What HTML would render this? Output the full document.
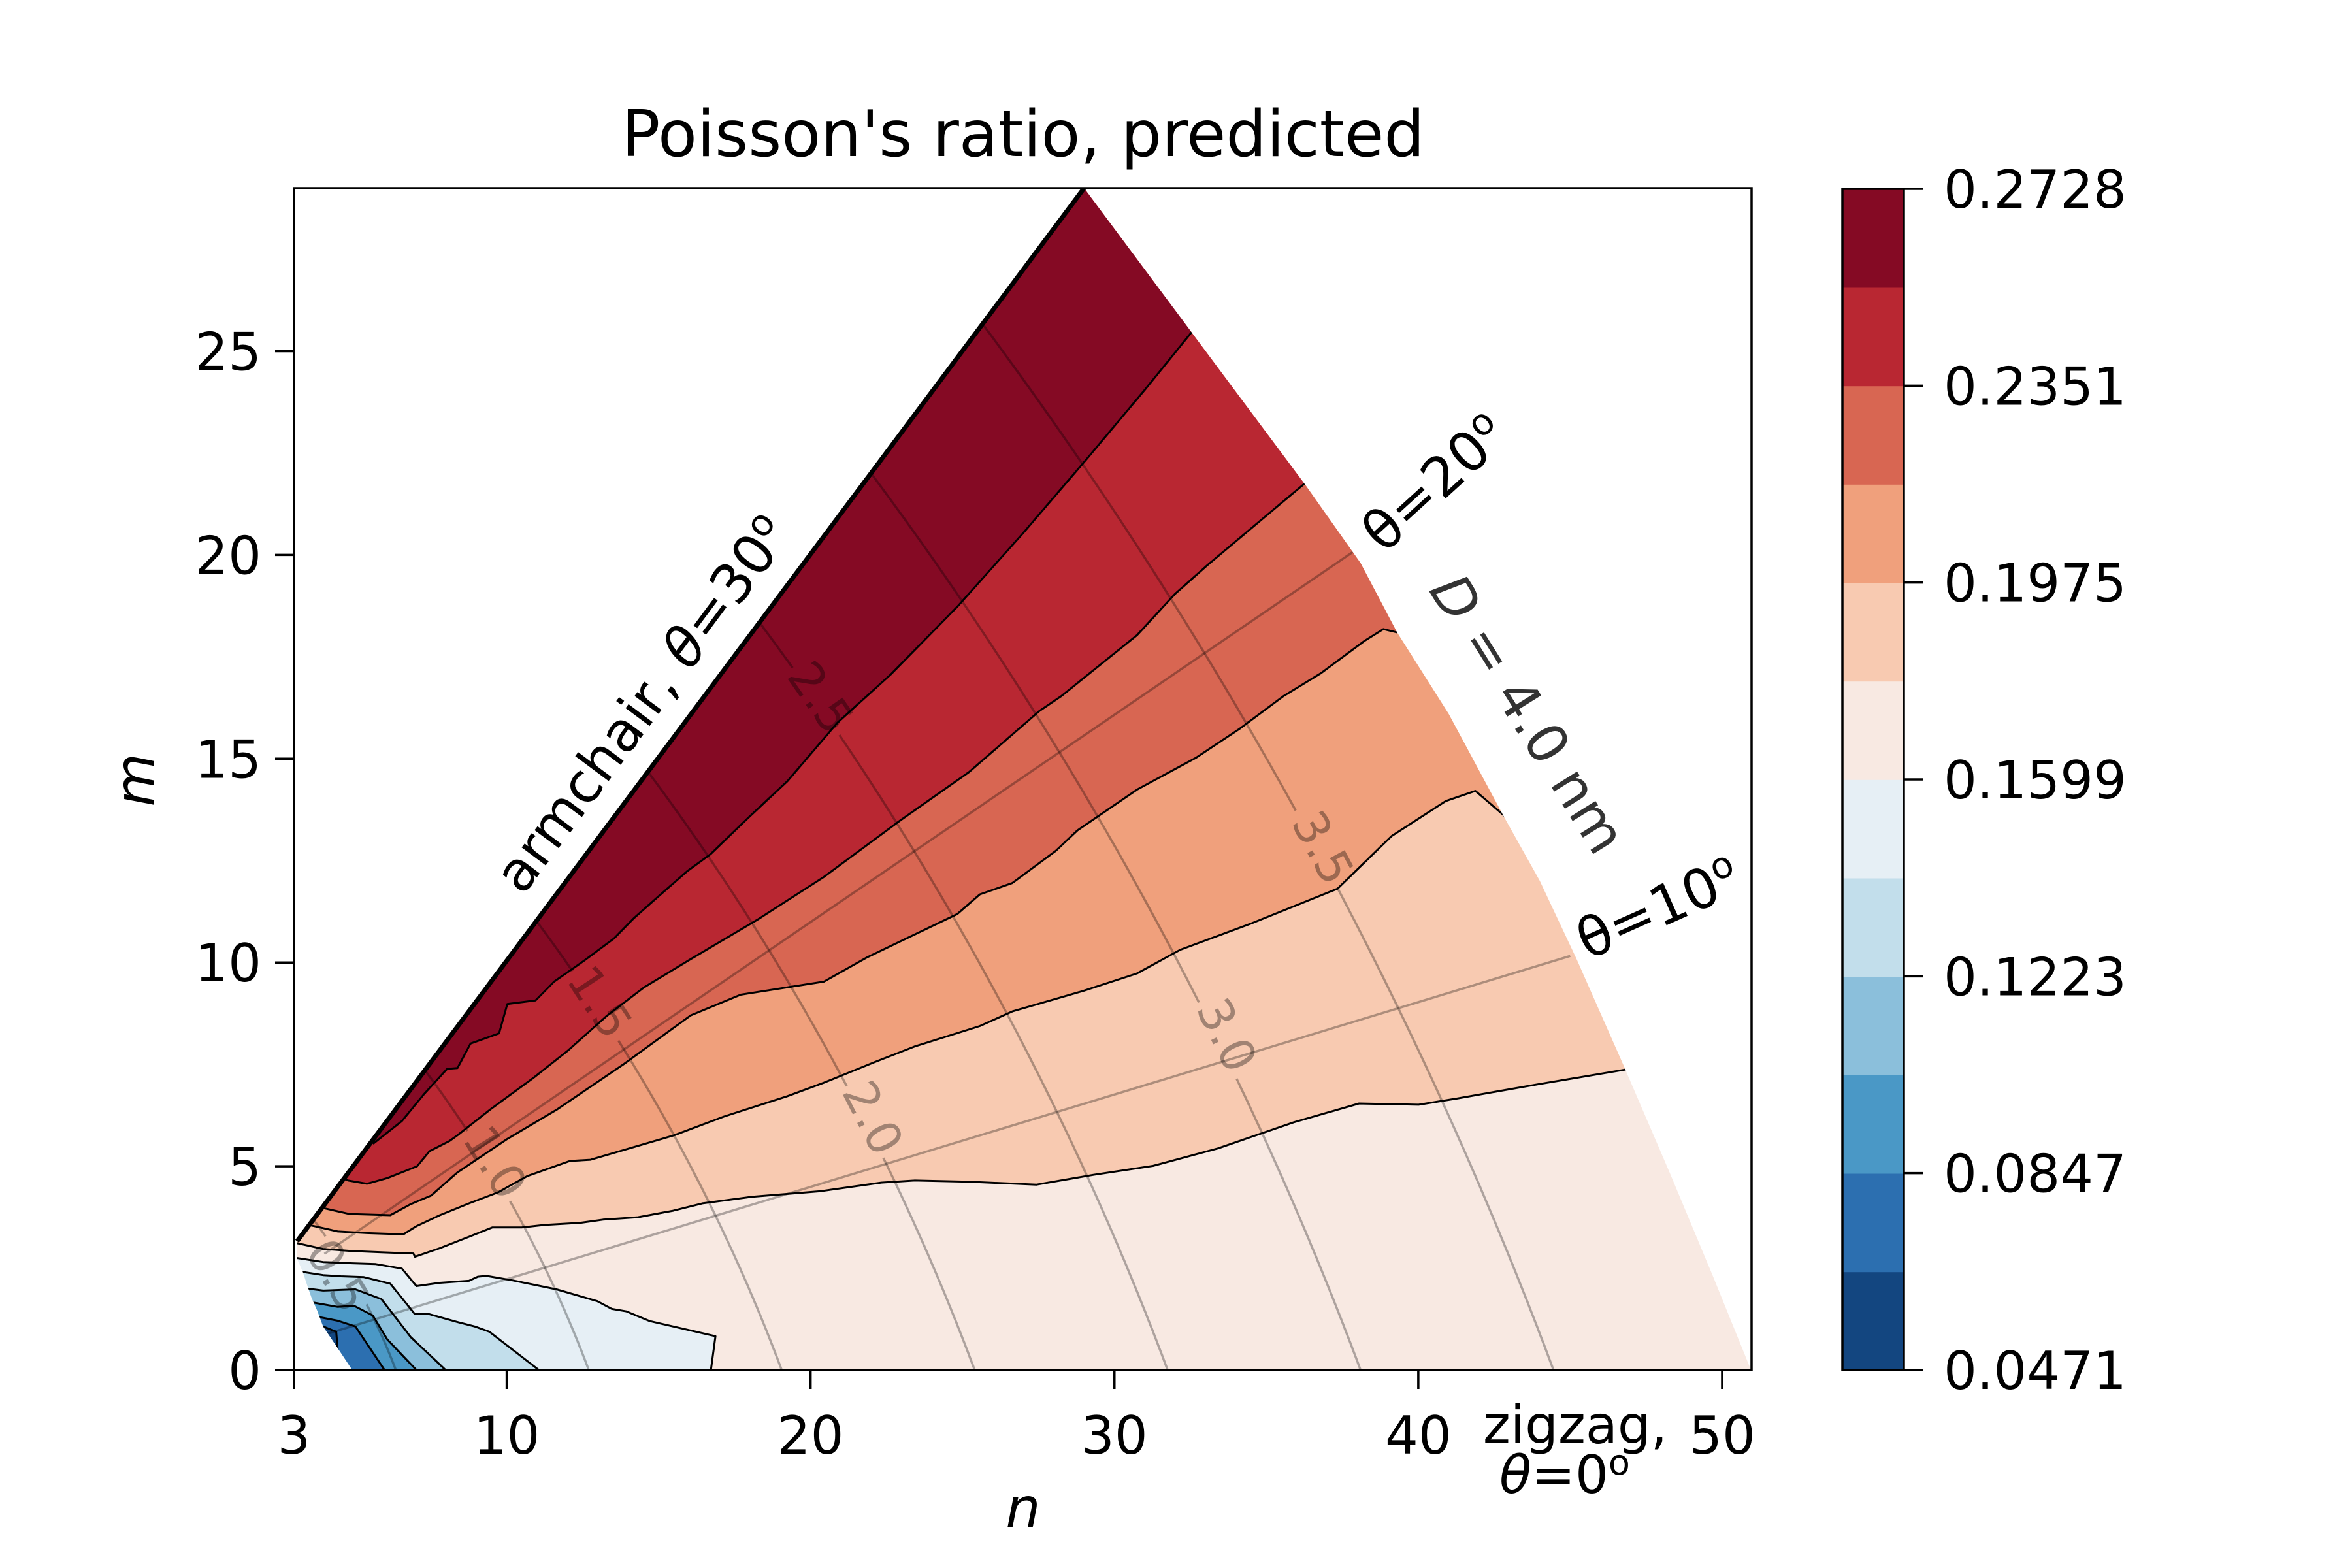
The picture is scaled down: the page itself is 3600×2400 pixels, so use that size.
<!DOCTYPE html>
<html><head><meta charset="utf-8"><style>
html,body{margin:0;padding:0;background:#fff}
svg{display:block}
text{font-family:"DejaVu Sans","Liberation Sans",sans-serif}
</style></head><body>
<svg id="chart" xmlns="http://www.w3.org/2000/svg" width="3600" height="2400" viewBox="0 0 3600 2400">
<rect x="0" y="0" width="3600" height="2400" fill="#fff"/>
<defs>
<clipPath id="axclip"><rect x="450" y="288" width="2231" height="1809"/></clipPath>
<clipPath id="domclip"><path id="domclippath" d=""/></clipPath>
</defs>
<g id="plot" clip-path="url(#axclip)">
<g id="fills" clip-path="url(#domclip)"></g>
<g id="grey" clip-path="url(#domclip)"></g>
<g id="lines" clip-path="url(#domclip)"></g>
<g id="armchair"></g>
<g id="dlabels"></g>
</g>
<rect x="450" y="288" width="2231" height="1809" fill="none" stroke="#000" stroke-width="3.5"/>
<g id="xticks"></g>
<g id="yticks"></g>
<g id="cbar"></g>
<text x="1566" y="239" font-size="98" text-anchor="middle">Poisson's ratio, predicted</text>
<text x="1566" y="2337" font-size="84" font-style="italic" text-anchor="middle">n</text>
<text x="0" y="0" font-size="84" font-style="italic" text-anchor="middle" transform="translate(236,1194) rotate(-90)">m</text>
<text x="0" y="0" font-size="84" transform="translate(800,1372) rotate(-53.3)">armchair, <tspan font-style="italic">θ</tspan>=30<tspan font-size="56" dy="-30">o</tspan></text>
<text x="0" y="0" font-size="84" transform="translate(2118,849) rotate(-42.3)">θ=20<tspan font-size="56" dy="-30">o</tspan></text>
<text x="0" y="0" font-size="84" fill="#333" transform="translate(2186,903) rotate(58)"><tspan font-style="italic">D</tspan> = 4.0 nm</text>
<text x="0" y="0" font-size="84" transform="translate(2430,1470) rotate(-24)">θ=10<tspan font-size="56" dy="-30">o</tspan></text>
<text x="2411" y="2209" font-size="80" text-anchor="middle">zigzag,</text>
<text x="2395" y="2285" font-size="80" text-anchor="middle"><tspan font-style="italic">θ</tspan>=0<tspan font-size="54" dy="-28">o</tspan></text>
</svg>
<script>
// ---- data ----
const levels = [0.0471,0.0659,0.0847,0.1035,0.1223,0.1411,0.1599,0.1787,0.1975,0.2163,0.2351,0.2539,0.2728];
const bandColors = ["#134680","#2c6fb0","#4a98c6","#8bbfdb","#c2deeb","#e6eff5","#f8e9e2","#f8cab1","#f0a07c","#d86652","#b92732","#850a24"];
const cbarTickLabels = ["0.0471","0.0847","0.1223","0.1599","0.1975","0.2351","0.2728"];
const xTicks = [3,10,20,30,40,50];
const yTicks = [0,5,10,15,20,25];
const innerEdge = [[4.92,0],[4.58,0.38],[4.25,0.75],[3.96,1.07],[3.77,1.45],[3.58,1.77],[3.43,2.09],[3.29,2.41],[3.1,2.73],[3.1,3.16]];
const armchairEnd = [29,29];
const outerEdge = [[29,29],[32.5,25.5],[36.3,21.7],[38.1,19.8],[39.3,18.1],[41.0,16.1],[42.8,13.6],[44.0,12.0],[45.2,10.1],[46.8,7.4],[48.3,4.8],[49.7,2.3],[50.95,0]];
const c1 = [[5.6,5.55],[6.55,6.11],[7.29,6.78],[8.04,7.39],[8.38,7.41],[8.81,8.01],[9.75,8.26],[10.02,8.98],[10.95,9.07],[11.56,9.53],[12.54,10.04],[13.53,10.59],[14.19,11.09],[14.96,11.6],[15.94,12.24],[16.71,12.66],[17.92,13.53],[19.24,14.45],[20.88,15.88],[22.64,17.07],[24.83,18.73],[27.0,20.54],[29.14,22.4],[31.01,24.06],[32.49,25.42],[32.8,25.7]];
const c2 = [[4.7,4.68],[4.78,4.65],[5.4,4.57],[6.07,4.71],[7.05,5.0],[7.46,5.37],[8.12,5.62],[8.38,5.76],[9.47,6.4],[10.9,7.18],[12.0,7.83],[13.31,8.7],[14.52,9.39],[16.05,10.08],[18.25,11.05],[20.44,12.1],[22.96,13.49],[25.21,14.67],[27.53,16.17],[28.24,16.53],[30.74,18.03],[31.99,19.04],[33.06,19.75],[36.27,21.76],[36.6,22.0]];
const c3 = [[4.0,3.97],[4.82,3.83],[6.17,3.8],[6.84,4.07],[7.51,4.28],[8.38,4.85],[10.02,5.67],[11.67,6.4],[13.86,7.51],[16.05,8.7],[17.7,9.21],[20.44,9.53],[21.87,10.13],[24.83,11.19],[25.57,11.67],[26.64,11.95],[28.07,12.74],[28.78,13.24],[30.74,14.24],[32.7,15.03],[34.13,15.74],[35.55,16.53],[36.8,17.1],[38.23,17.89],[38.85,18.18],[39.3,18.1],[39.6,18.3]];
const c4 = [[3.55,3.55],[3.67,3.53],[4.44,3.4],[5.4,3.36],[6.6,3.33],[7.03,3.53],[7.8,3.8],[8.76,4.09],[9.72,4.36],[10.68,4.76],[12.08,5.13],[12.76,5.16],[15.51,5.76],[17.15,6.22],[19.24,6.72],[20.44,7.05],[22.09,7.55],[23.43,7.94],[25.57,8.44],[26.64,8.8],[28.96,9.3],[30.74,9.73],[32.16,10.31],[34.48,10.95],[37.34,11.81],[39.12,13.1],[40.9,13.96],[41.88,14.21],[42.77,13.64],[43.1,13.4]];
const c5 = [[3.0,3.13],[3.96,2.97],[4.92,2.92],[5.88,2.89],[6.93,2.86],[6.98,2.78],[7.8,2.99],[8.76,3.27],[9.53,3.5],[10.49,3.5],[11.25,3.56],[12.4,3.61],[13.17,3.69],[14.32,3.75],[15.48,3.91],[16.44,4.09],[18.05,4.25],[20.34,4.39],[22.33,4.6],[23.43,4.65],[25.21,4.62],[27.44,4.55],[29.31,4.79],[31.27,5.01],[33.41,5.44],[35.91,6.08],[38.05,6.54],[40.01,6.51],[41.26,6.66],[43.93,7.01],[46.79,7.37],[47.5,7.45]];
const c6 = [[3.0,2.76],[3.96,2.65],[4.92,2.62],[5.69,2.6],[6.55,2.49],[7.03,2.06],[7.8,2.14],[8.76,2.19],[9.05,2.29],[9.33,2.31],[10.2,2.2],[11.64,1.98],[12.98,1.69],[13.46,1.5],[13.94,1.44],[14.71,1.2],[15.48,1.07],[16.87,0.83],[16.72,0],[16.72,-0.5]];
const c7 = [[3.0,2.44],[3.96,2.33],[4.54,2.3],[5.3,2.28],[6.17,2.12],[6.98,1.37],[7.41,1.38],[8.37,1.18],[8.95,1.07],[9.43,0.94],[11.06,0],[11.5,-0.5]];
const c8 = [[3.0,2.04],[3.96,1.95],[5.02,1.98],[5.88,1.74],[6.84,0.81],[7.99,0],[8.4,-0.5]];
const c9 = [[3.0,1.74],[4.44,1.55],[4.97,1.58],[5.59,1.34],[6.07,0.75],[7.03,0],[7.4,-0.5]];
const c10 = [[3.0,1.42],[4.44,1.21],[5.02,1.07],[5.98,0],[6.3,-0.5]];
const c11 = [[3.0,1.07],[3.96,1.07],[4.39,0.94],[4.44,0.48],[4.6,0.3],[4.6,-0.5]];
const upperContours = [c5,c4,c3,c2,c1];
const upperBandIdx = [7,8,9,10,11];
const lowerContours = [c6,c7,c8,c9,c10,c11];
const lowerBandIdx = [5,4,3,2,1,0];
const diameters = [0.5,1.0,1.5,2.0,2.5,3.0,3.5];
const diamLabels = ["0.5","1.0","1.5","2.0","2.5","3.0","3.5"];
const diamLabelPos = [[4.44,2.32],[9.62,5.1],[13.06,9.03],[22.05,6.19],[20.33,16.5],[33.7,8.22],[36.86,12.82]];
const hexPerNm = 12.7;
const theta10Line = [[3.96,0.86],[45.0,10.16]];
const theta20Line = [[4.0,2.85],[37.9,20.1]];

// ---- scales ----
const X = n => 450 + (n-3)*46.51;
const Y = m => 2097 - m*62.38;
const NS = "http://www.w3.org/2000/svg";
function mk(tag, attrs, parent){const e=document.createElementNS(NS,tag);for(const k in attrs)e.setAttribute(k,attrs[k]);parent.appendChild(e);return e;}
const ptsStr = pts => pts.map(p=>X(p[0]).toFixed(1)+","+Y(p[1]).toFixed(1)).join(" ");
const pathD = pts => "M"+pts.map(p=>X(p[0]).toFixed(1)+" "+Y(p[1]).toFixed(1)).join(" L");

const domain = innerEdge.concat([armchairEnd]).concat(outerEdge.slice(1));
document.getElementById('domclippath').setAttribute('d', pathD(domain)+" Z");

const fills = document.getElementById('fills');
const base = mk('polygon',{points:ptsStr(domain),fill:bandColors[6]},fills);



upperContours.forEach((c,i)=>{
  const first=c[0], last=c[c.length-1];
  const poly = c.concat([[60,last[1]],[60,40],[0,40],[0,first[1]]]);
  const p = mk('polygon',{points:ptsStr(poly),fill:bandColors[upperBandIdx[i]]},fills);
  
  
});
lowerContours.forEach((c,i)=>{
  const first=c[0], last=c[c.length-1];
  const poly = c.concat([[last[0],-5],[0,-5],[0,first[1]]]);
  const p = mk('polygon',{points:ptsStr(poly),fill:bandColors[lowerBandIdx[i]]},fills);
  
  
});

const grey = document.getElementById('grey');
[theta10Line,theta20Line].forEach((l,i)=>{
  const g = mk('path',{d:pathD(l),stroke:"#000","stroke-opacity":"0.3","stroke-width":"3.5",fill:"none"},grey);
  
  
});
const dl = document.getElementById('dlabels');
diameters.forEach((D,i)=>{
  const r = D*hexPerNm;
  const lp = diamLabelPos[i];
  const lx = X(lp[0]), ly = Y(lp[1]);
  let segs=[], cur=[];
  const N=200;
  for(let k=0;k<=N;k++){
    const m = k/N * r/Math.sqrt(3);
    const n = (-m + Math.sqrt(4*r*r-3*m*m))/2;
    const px=X(n), py=Y(m);
    const gap = Math.hypot(px-lx,py-ly) < 62;
    if(gap){ if(cur.length>1) segs.push(cur); cur=[]; }
    else cur.push(px.toFixed(1)+" "+py.toFixed(1));
  }
  if(cur.length>1) segs.push(cur);
  const d = segs.map(s=>"M"+s.join(" L")).join(" ");
  const a = mk('path',{d:d,stroke:"#000","stroke-opacity":"0.3","stroke-width":"3.5",fill:"none"},grey);
  
  
  const n=lp[0], m=lp[1];
  const ang = Math.atan2(62.38, 46.51*(n+2*m)/(2*n+m))*180/Math.PI;
  const t = mk('text',{x:0,y:0,"font-size":"72",fill:"#000","fill-opacity":"0.35","text-anchor":"middle","dominant-baseline":"central",transform:`translate(${lx.toFixed(1)},${ly.toFixed(1)}) rotate(${ang.toFixed(1)})`},dl);
  t.textContent = diamLabels[i];
  
  
});

const lines = document.getElementById('lines');
upperContours.concat(lowerContours).forEach((c,i)=>{
  const l = mk('path',{d:pathD(c),stroke:"#000","stroke-width":"3","fill":"none","stroke-linejoin":"round"},lines);
  
  
});
const arm = mk('path',{d:pathD([innerEdge[innerEdge.length-1],armchairEnd]),stroke:"#000","stroke-width":"7",fill:"none"},document.getElementById('armchair'));



const xt = document.getElementById('xticks');
xTicks.forEach(v=>{
  const tk = mk('line',{x1:X(v),x2:X(v),y1:2097,y2:2126,stroke:"#000","stroke-width":"3.5"},xt);
  
  
  const tl = mk('text',{x:X(v),y:2225,"font-size":"80","text-anchor":"middle"},xt);
  tl.textContent = v;
  
  
});
const yt = document.getElementById('yticks');
yTicks.forEach(v=>{
  const tk = mk('line',{x1:421,x2:450,y1:Y(v),y2:Y(v),stroke:"#000","stroke-width":"3.5"},yt);
  
  
  const tl = mk('text',{x:400,y:Y(v)+29,"font-size":"80","text-anchor":"end"},yt);
  tl.textContent = v;
  
  
});

const cb = document.getElementById('cbar');
const cbTop=289, cbBot=2097, cbL=2820, cbR=2914;
const bh = (cbBot-cbTop)/bandColors.length;
bandColors.forEach((col,i)=>{
  const r = mk('rect',{x:cbL,y:(cbBot-(i+1)*bh).toFixed(1),width:cbR-cbL,height:(bh+0.8).toFixed(1),fill:col},cb);
  
  
});
const fr = mk('rect',{x:cbL,y:cbTop,width:cbR-cbL,height:cbBot-cbTop,fill:"none",stroke:"#000","stroke-width":"3.5"},cb);


cbarTickLabels.forEach((lab,i)=>{
  const yy = cbBot - i*2*bh;
  const tk = mk('line',{x1:cbR,x2:cbR+29,y1:yy,y2:yy,stroke:"#000","stroke-width":"3.5"},cb);
  
  
  const tl = mk('text',{x:2975,y:yy+29,"font-size":"80"},cb);
  tl.textContent = lab;
  
  
});
</script>
</body></html>
